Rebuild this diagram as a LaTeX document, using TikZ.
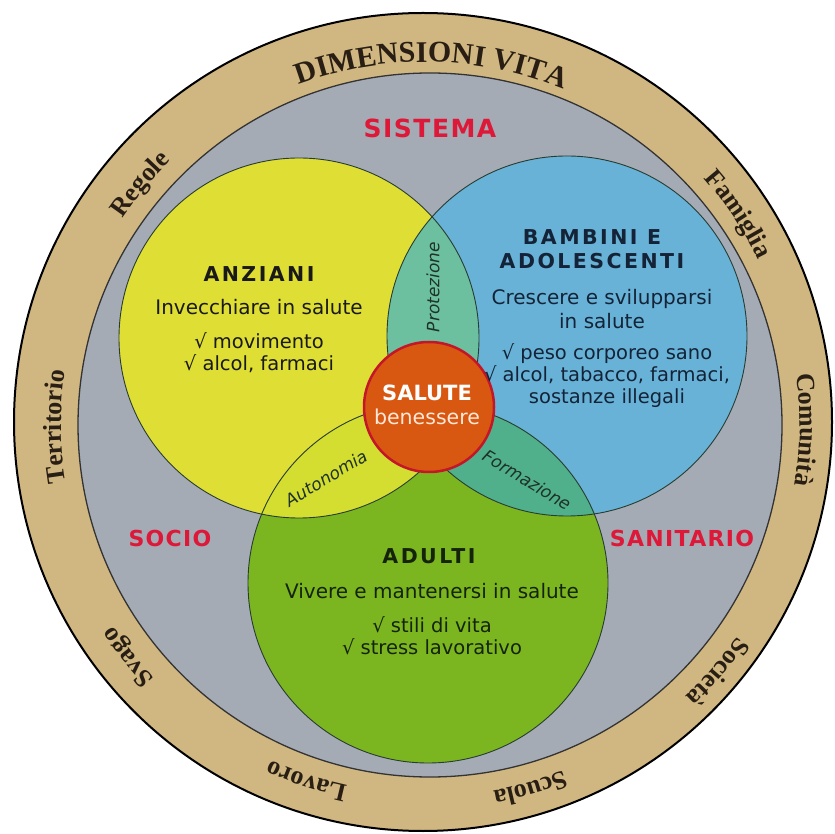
\documentclass[tikz,border=0pt]{standalone}
\usepackage{fontspec}
\setmainfont{DejaVu Sans}
\newfontfamily\headfont{DejaVu Sans}[LetterSpace=12]
\newfontfamily\redfont{DejaVu Sans}[LetterSpace=6]
\newfontfamily\ringserif{Liberation Serif}
\usetikzlibrary{calc,decorations.text}
\definecolor{ringtan}{RGB}{208,182,128}
\definecolor{bggray}{RGB}{164,171,181}
\definecolor{vyellow}{RGB}{222,222,52}
\definecolor{vblue}{RGB}{103,178,214}
\definecolor{vgreen}{RGB}{123,182,33}
\definecolor{lensprot}{RGB}{108,192,160}
\definecolor{lensform}{RGB}{80,176,140}
\definecolor{lensauto}{RGB}{212,222,48}
\definecolor{saluteor}{RGB}{216,88,18}
\definecolor{salutered}{RGB}{196,22,40}
\definecolor{redtext}{RGB}{222,24,56}
\definecolor{darktext}{RGB}{25,25,25}
\definecolor{bluetext}{RGB}{20,35,55}
\definecolor{greentext}{RGB}{20,35,10}
\definecolor{lenstext}{RGB}{30,50,40}
\definecolor{benecol}{RGB}{255,232,215}
\definecolor{ringtext}{RGB}{40,30,20}
\definecolor{vennedge}{RGB}{40,60,50}
\newcommand\ringfnt{\ringserif\bfseries\fontsize{26}{26}\selectfont}
\newcommand\bigringfnt{\ringserif\bfseries\fontsize{30}{30}\selectfont}
\begin{document}
\begin{tikzpicture}[x=1pt,y=1pt,
  vennline/.style={draw=vennedge, line width=0.9pt},
  headtxt/.style={align=center, inner sep=0pt, font=\headfont\bfseries\fontsize{20.5}{24}\selectfont},
  bodytxt/.style={align=center, inner sep=0pt, font=\fontsize{20}{24}\selectfont},
  listtxt/.style={align=center, inner sep=0pt, font=\fontsize{19.5}{22}\selectfont},
  lenslbl/.style={inner sep=0pt, text=lenstext, font=\itshape\fontsize{17}{20}\selectfont},
  redlbl/.style={inner sep=0pt, text=redtext, font=\redfont\bfseries\fontsize{22}{24}\selectfont},
  ringlabel/.style={decorate, decoration={text along path, text align=center, text color=ringtext}}
]
\useasboundingbox (0,0) rectangle (835,833);
\coordinate (L) at (425,410);
% rings
\filldraw[fill=ringtan, draw=black, line width=2pt] (423,411) circle[radius=409];
\filldraw[fill=bggray, draw=black!80, line width=1.3pt] (430,408) circle[radius=352];
% venn
\def\ycirc{(299,495) circle[radius=180]}
\def\bcirc{(567,497) circle[radius=180]}
\def\gcirc{(428,250) circle[radius=180]}
\fill[vyellow] \ycirc;
\fill[vblue] \bcirc;
\fill[vgreen] \gcirc;
\begin{scope} \clip \ycirc; \fill[lensprot] \bcirc; \end{scope}
\begin{scope} \clip \ycirc; \fill[lensauto] \gcirc; \end{scope}
\begin{scope} \clip \bcirc; \fill[lensform] \gcirc; \end{scope}
\draw[vennline] \ycirc;
\draw[vennline] \bcirc;
\draw[vennline] \gcirc;
% centre
\node[circle, minimum size=130pt, inner sep=0pt, fill=saluteor, draw=salutered, line width=2.5pt] (salute) at (429,426) {};
\node[inner sep=0pt, text=white, font=\bfseries\fontsize{21}{24}\selectfont] (saluteA) at (427,440) {SALUTE};
\node[inner sep=0pt, text=benecol, font=\fontsize{20.5}{24}\selectfont] (saluteB) at (427,416) {benessere};
% circle texts
\node[headtxt, text=darktext] (anz) at (259,559) {ANZIANI};
\node[bodytxt, text=darktext] (anzA) at (259,526) {Invecchiare in salute};
\node[listtxt, text=darktext] (anzB) at (259,480.5) {√ movimento\\√ alcol, farmaci};
\node[headtxt, text=bluetext] (bam) at (592,584) {BAMBINI E\\ADOLESCENTI};
\node[bodytxt, text=bluetext] (bamA) at (602,524) {Crescere e svilupparsi\\in salute};
\node[listtxt, text=bluetext] (bamB) at (607,457) {√ peso corporeo sano\\√ alcol, tabacco, farmaci,\\sostanze illegali};
\node[headtxt, text=greentext] (adu) at (429,277) {ADULTI};
\node[bodytxt, text=greentext] (aduA) at (432,242) {Vivere e mantenersi in salute};
\node[listtxt, text=greentext] (aduB) at (432,197.5) {√ stili di vita\\√ stress lavorativo};
% lens labels
\node[lenslbl, rotate=90] (prot) at (433,546) {Protezione};
\node[lenslbl, rotate=31] (auto) at (326,355) {Autonomia};
\node[lenslbl, rotate=-31] (form) at (527,353) {Formazione};
% red labels
\node[redlbl, font=\redfont\bfseries\fontsize{25}{28}\selectfont] (sis) at (430,705) {SISTEMA};
\node[redlbl] (soc) at (170,295) {SOCIO};
\node[redlbl] (san) at (682,295) {SANITARIO};
% ring labels
\path[ringlabel, decoration={text={|\bigringfnt|DIMENSIONI VITA}}] ($(L)+(134:361)$) arc[start angle=134, end angle=44, radius=361];
\path[ringlabel, decoration={text={|\ringfnt|Regole}}] ($(L)+(180:365)$) arc[start angle=180, end angle=100, radius=365];
\path[ringlabel, decoration={text={|\ringfnt|Famiglia}}] ($(L)+(73.7:371)$) arc[start angle=73.7, end angle=-6.3, radius=371];
\path[ringlabel, decoration={text={|\ringfnt|Territorio}}] ($(L)+(220.6:364)$) arc[start angle=220.6, end angle=140.6, radius=364];
\path[ringlabel, decoration={text={|\ringfnt|Comunità}}] ($(L)+(39:375)$) arc[start angle=39, end angle=-41, radius=375];
\path[ringlabel, decoration={text={|\ringfnt|Svago}}] ($(L)+(258.2:372)$) arc[start angle=258.2, end angle=178.2, radius=372];
\path[ringlabel, decoration={text={|\ringfnt|Lavoro}}] ($(L)+(291.7:371)$) arc[start angle=291.7, end angle=211.7, radius=371];
\path[ringlabel, decoration={text={|\ringfnt|Scuola}}] ($(L)+(326.1:374)$) arc[start angle=326.1, end angle=246.1, radius=374];
\path[ringlabel, decoration={text={|\ringfnt|Società}}] ($(L)+(359.6:378)$) arc[start angle=359.6, end angle=279.6, radius=378];
\end{tikzpicture}
\end{document}
